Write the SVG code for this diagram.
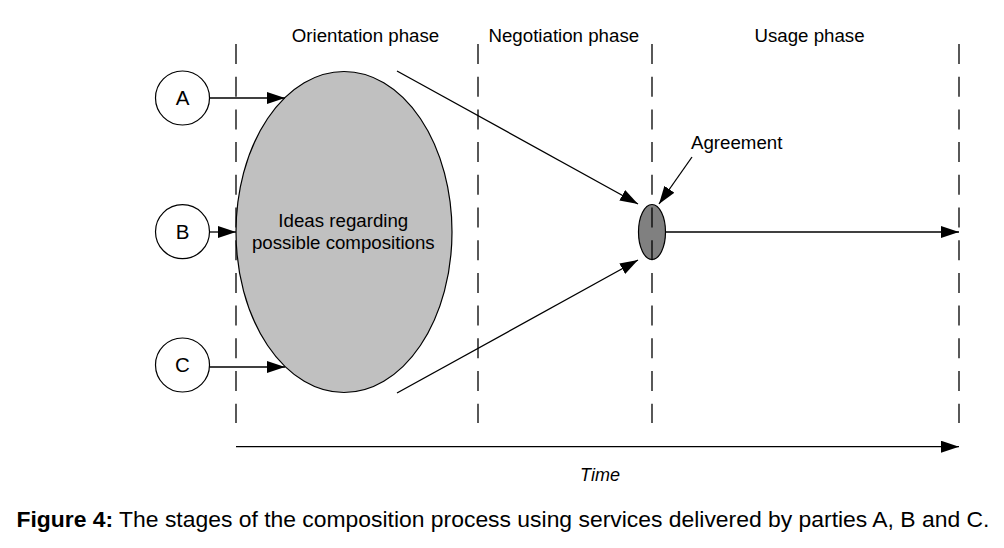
<svg xmlns="http://www.w3.org/2000/svg" width="1004" height="548" viewBox="0 0 1004 548">
<defs>
<style>
text{font-family:"Liberation Sans",Arial,sans-serif;fill:#000}
.lbl{font-size:18.7px;text-anchor:middle}
.let{font-size:20.5px;text-anchor:middle}
.dash{stroke:#000;stroke-width:1.3;stroke-dasharray:20 12.7;fill:none}
.conn{stroke:#000;stroke-width:1.3;fill:none}
.circ{fill:#fff;stroke:#000;stroke-width:1.2}
</style>
<marker id="ah" viewBox="0 0 18 12" refX="18" refY="6" markerWidth="18" markerHeight="12" markerUnits="userSpaceOnUse" orient="auto">
<path d="M0,0 L18,6 L0,12 z" fill="#000"/>
</marker>
</defs>
<rect width="1004" height="548" fill="#fff"/>

<g id="phase-labels">
<text class="lbl" x="365.5" y="41.7">Orientation phase</text>
<text class="lbl" x="563.8" y="41.7">Negotiation phase</text>
<text class="lbl" x="809.5" y="41.7">Usage phase</text>
</g>

<g id="dividers">
<line class="dash" x1="236" y1="44" x2="236" y2="423"/>
<line class="dash" x1="478" y1="44" x2="478" y2="423"/>
<line class="dash" x1="959" y1="44" x2="959" y2="423"/>
</g>

<g id="ideas">
<ellipse cx="344" cy="232" rx="108" ry="160.5" fill="#c0c0c0" stroke="#000" stroke-width="1.2"/>
<text class="lbl" x="343.3" y="226.7">Ideas regarding</text>
<text class="lbl" x="343.3" y="249.3">possible compositions</text>
</g>

<g id="nodeA">
<circle class="circ" cx="182.5" cy="98" r="27"/>
<text class="let" x="182.5" y="105">A</text>
</g>
<g id="nodeB">
<circle class="circ" cx="182.5" cy="231.7" r="27"/>
<text class="let" x="182.5" y="238.5">B</text>
</g>
<g id="nodeC">
<circle class="circ" cx="182.5" cy="365" r="27"/>
<text class="let" x="182.5" y="372">C</text>
</g>

<g id="agreement">
<ellipse cx="652" cy="232" rx="13.5" ry="27.5" fill="#808080" stroke="#000" stroke-width="1.2"/>
<text x="691" y="148.5" style="font-size:18.7px">Agreement</text>
</g>
<line class="dash" x1="652" y1="44" x2="652" y2="423"/>

<g id="connectors">
<line class="conn" x1="209.5" y1="98" x2="285" y2="98" marker-end="url(#ah)"/>
<line class="conn" x1="209.5" y1="232" x2="236" y2="232" marker-end="url(#ah)"/>
<line class="conn" x1="209.5" y1="367" x2="285" y2="367" marker-end="url(#ah)"/>
<line class="conn" x1="397" y1="71" x2="638" y2="204" marker-end="url(#ah)"/>
<line class="conn" x1="397" y1="393" x2="638" y2="260" marker-end="url(#ah)"/>
<line class="conn" x1="692" y1="157" x2="659" y2="204" marker-end="url(#ah)"/>
<line class="conn" x1="665.5" y1="232" x2="959" y2="232" marker-end="url(#ah)"/>
<line class="conn" x1="236" y1="446.7" x2="959" y2="446.7" marker-end="url(#ah)"/>
</g>

<text x="600" y="481" style="font-size:18px;font-style:italic;text-anchor:middle">Time</text>

<text x="16.5" y="526.5" style="font-size:22.9px"><tspan font-weight="bold">Figure 4:</tspan> The stages of the composition process using services delivered by parties A, B and C.</text>
</svg>
